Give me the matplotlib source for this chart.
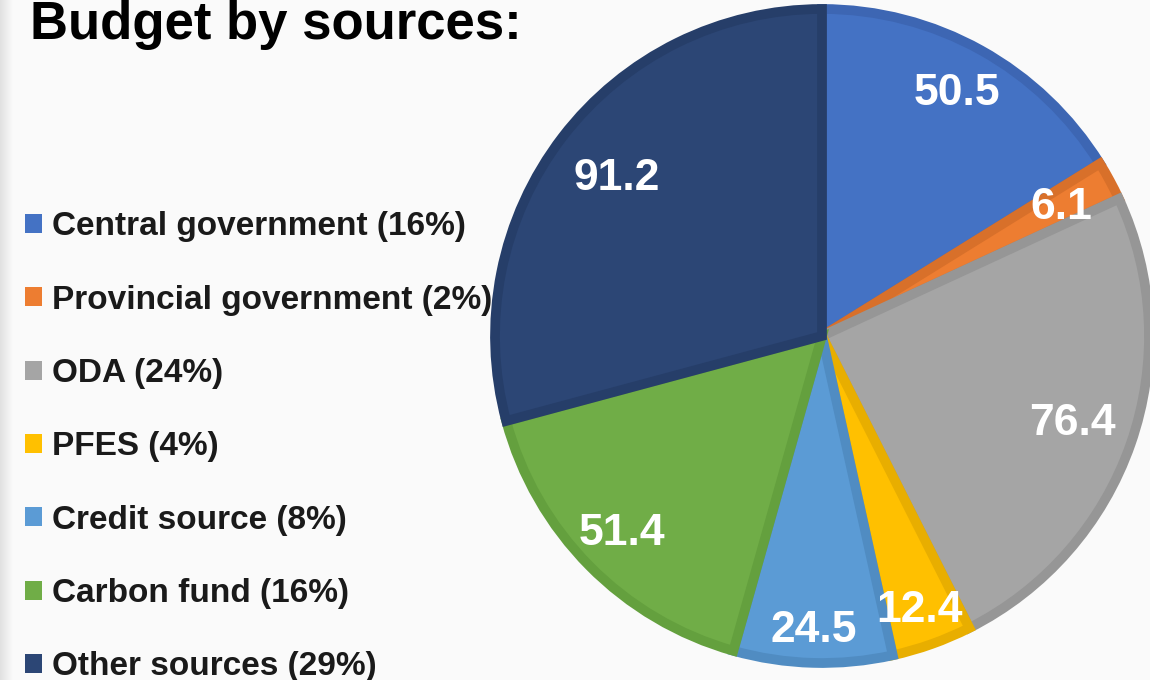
import matplotlib.pyplot as plt
import numpy as np

plt.rcParams['font.family'] = ['Liberation Sans', 'DejaVu Sans']

# budget by source (values shown on the slices)
sources = ['Central government', 'Provincial government', 'ODA', 'PFES',
           'Credit source', 'Carbon fund', 'Other sources']
budget = [50.5, 6.1, 76.4, 12.4, 24.5, 51.4, 91.2]
face_colors = ['#4472C4', '#ED7D31', '#A5A5A5', '#FFC000',
               '#5B9BD5', '#70AD47', '#2C4675']
edge_colors = ['#3D66B3', '#D8702A', '#969696', '#E8AE00',
               '#508CC2', '#64A03E', '#263E69']
# how far out each value label sits (fraction of the radius)
label_dist = [0.85, 0.83, 0.81, 0.89, 0.90, 0.86, 0.79]

total = sum(budget)
shares = [round(v / total * 100) for v in budget]
legend_labels = ['%s (%d%%)' % (s, p) for s, p in zip(sources, shares)]

fig = plt.figure(figsize=(11.5, 6.8), dpi=100)
fig.patch.set_facecolor('#FAFAFA')

# grey strip on the far left edge
grad = fig.add_axes([0, 0, 12 / 1150, 1])
grad.imshow(np.linspace(0.88, 0.98, 50).reshape(1, -1), cmap='gray',
            vmin=0, vmax=1, aspect='auto')
grad.axis('off')

ax = fig.add_axes([495 / 1150, 17 / 680, 654 / 1150, 654 / 680])
wedges, texts, autotexts = ax.pie(
    budget, colors=face_colors, startangle=90, counterclock=False,
    radius=1, autopct=lambda p: '%.1f' % (p * total / 100),
    pctdistance=0.83,
    textprops=dict(color='white', fontsize=32, fontweight='bold'))

# darker inner border on every slice
for w, ec in zip(wedges, edge_colors):
    w.set_edgecolor(ec)
    w.set_linewidth(7)
    w.set_clip_path(w)

# nudge the value labels along the slice middle
for w, t, d in zip(wedges, autotexts, label_dist):
    mid = np.deg2rad((w.theta1 + w.theta2) / 2)
    t.set_position((d * np.cos(mid), d * np.sin(mid)))

ax.set_xlim(-1, 1)
ax.set_ylim(-1, 1)
ax.set_aspect('equal')
ax.axis('off')

leg = fig.legend(wedges, legend_labels, loc='upper left',
                 bbox_to_anchor=(12 / 1150, 1 - 198 / 680),
                 frameon=False, handlelength=0.5, handleheight=0.5,
                 handletextpad=0.3, labelspacing=1.27,
                 prop=dict(size=24, weight='bold'), borderaxespad=0)
for h, fc in zip(leg.legend_handles, face_colors):
    h.set_edgecolor('none')
    h.set_facecolor(fc)
    h.set_linewidth(0)
for t in leg.get_texts():
    t.set_color('#1A1A1A')

fig.text(30 / 1150, 1 - 39 / 680, 'Budget by sources:', fontsize=38,
         fontweight='bold', color='black', va='baseline', ha='left')

fig.savefig('out.png', dpi=100, facecolor=fig.get_facecolor())
